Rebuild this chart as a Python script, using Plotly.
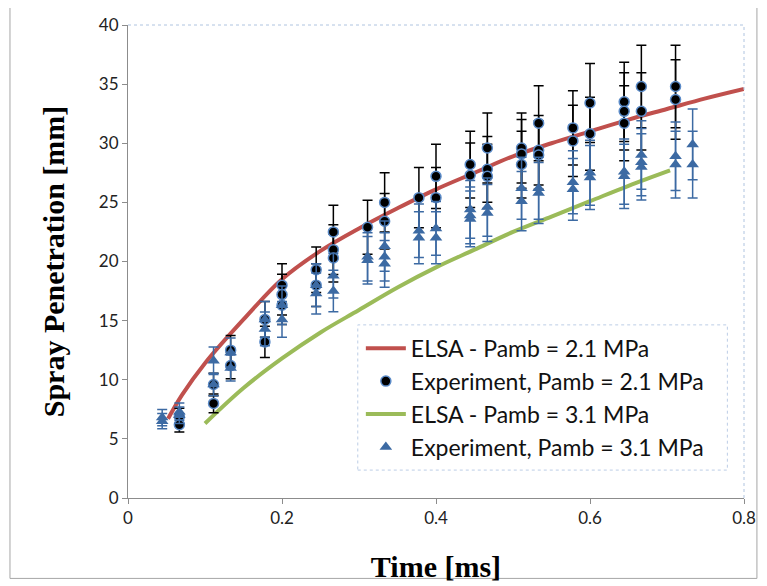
import plotly.graph_objects as go

# ---- data ----
elsa21_t = [0.052, 0.07, 0.1, 0.15, 0.2, 0.25, 0.3, 0.35, 0.4, 0.45, 0.5, 0.55, 0.6, 0.65, 0.7, 0.75, 0.8]
elsa21_v = [6.7, 8.7, 11.4, 15.1, 18.5, 20.9, 22.8, 24.5, 26.1, 27.5, 28.9, 30.0, 31.0, 32.0, 32.9, 33.8, 34.6]

elsa31_t = [0.1, 0.15, 0.2, 0.25, 0.3, 0.35, 0.4, 0.45, 0.5, 0.55, 0.6, 0.65, 0.704]
elsa31_v = [6.3, 9.3, 11.8, 14.0, 15.9, 17.8, 19.5, 21.0, 22.5, 23.8, 25.1, 26.4, 27.7]

exp21_t = [0.0667, 0.0667, 0.1111, 0.1111, 0.1333, 0.1333, 0.1778, 0.1778,
           0.2, 0.2, 0.2, 0.2444, 0.2444, 0.2667, 0.2667, 0.2667, 0.3111,
           0.3333, 0.3333, 0.3778, 0.4, 0.4, 0.4444, 0.4444,
           0.4667, 0.4667, 0.4667, 0.5111, 0.5111, 0.5111, 0.5333, 0.5333, 0.5333,
           0.5778, 0.5778, 0.6, 0.6, 0.6444, 0.6444, 0.6444, 0.6667, 0.6667,
           0.7111, 0.7111]
exp21_v = [6.9, 6.2, 9.6, 8.0, 12.5, 11.2, 15.1, 13.2,
           18.0, 17.2, 16.3, 19.3, 18.0, 22.5, 21.0, 20.3, 22.9,
           25.0, 23.4, 25.4, 27.2, 25.4, 28.2, 27.3,
           29.6, 27.8, 27.2, 29.6, 29.1, 28.2, 31.7, 29.4, 29.0,
           31.3, 30.2, 33.4, 30.8, 33.5, 32.7, 31.7, 34.8, 32.7,
           34.8, 33.7]

exp31_t = [0.0444, 0.0444, 0.0667, 0.0667, 0.1111, 0.1111, 0.1333, 0.1333,
           0.1778, 0.1778, 0.2, 0.2, 0.2444, 0.2444, 0.2667, 0.2667,
           0.3111, 0.3111, 0.3333, 0.3333, 0.3333, 0.3778, 0.3778, 0.4, 0.4,
           0.4444, 0.4444, 0.4444, 0.4667, 0.4667, 0.5111, 0.5111, 0.5333, 0.5333,
           0.5778, 0.5778, 0.6, 0.6, 0.6444, 0.6444, 0.6667, 0.6667, 0.6667,
           0.7111, 0.7111, 0.7333, 0.7333]
exp31_v = [6.8, 6.5, 7.3, 7.0, 11.6, 9.6, 12.3, 11.0,
           15.1, 14.3, 16.3, 15.1, 18.0, 17.3, 18.8, 17.5,
           20.4, 20.1, 21.3, 20.4, 19.8, 22.6, 22.0, 22.8, 22.0,
           24.4, 23.9, 23.6, 24.6, 24.1, 26.2, 25.1, 26.2, 25.8,
           26.7, 26.1, 27.5, 27.1, 27.6, 27.2, 29.0, 28.4, 28.0,
           28.9, 28.2, 29.9, 28.2]

error_percent = 10

x_ticks = [0, 0.2, 0.4, 0.6, 0.8]
x_ticklabels = ["0", "0.2", "0.4", "0.6", "0.8"]
y_ticks = [0, 5, 10, 15, 20, 25, 30, 35, 40]

names = ["ELSA - Pamb = 2.1 MPa", "Experiment, Pamb = 2.1 MPa",
         "ELSA - Pamb = 3.1 MPa", "Experiment, Pamb = 3.1 MPa"]

RED = "#C0504D"
GREEN = "#9BBB59"
BLUE = "#3C6AA3"
GLOW = "#5B8BC8"

fig = go.Figure()

fig.add_trace(go.Scatter(x=elsa21_t, y=elsa21_v, mode="lines", name=names[0],
                         line=dict(color=RED, width=4, shape="spline"), legendrank=1))
fig.add_trace(go.Scatter(x=elsa31_t, y=elsa31_v, mode="lines", name=names[2],
                         line=dict(color=GREEN, width=4, shape="spline"), legendrank=3))
fig.add_trace(go.Scatter(x=exp21_t, y=exp21_v, mode="markers", name=names[1],
                         marker=dict(symbol="circle", size=10, color="black",
                                     line=dict(color=GLOW, width=1.5)),
                         error_y=dict(type="percent", value=error_percent, color="black",
                                      thickness=1.5, width=5),
                         legendrank=2))
fig.add_trace(go.Scatter(x=exp31_t, y=exp31_v, mode="markers", name=names[3],
                         marker=dict(symbol="triangle-up", size=11, color=BLUE,
                                     line=dict(color=BLUE, width=0)),
                         error_y=dict(type="percent", value=error_percent, color=BLUE,
                                      thickness=1.5, width=5),
                         legendrank=4))

axis_font = dict(family="Lato, Liberation Sans, sans-serif", size=17, color="#222")
title_font = dict(family="Liberation Serif, Times New Roman, serif", size=30, color="black")

fig.update_xaxes(range=[0, 0.8], tickvals=x_ticks, ticktext=x_ticklabels,
                 automargin=False,
                 showgrid=False, zeroline=False, showline=True, linecolor="#8c8c8c",
                 linewidth=1, ticks="outside", ticklen=5, tickcolor="#8c8c8c",
                 tickfont=axis_font,
                 title=dict(text="<b>Time [ms]</b>", font=title_font, standoff=28))
fig.update_yaxes(range=[0, 40], tickvals=y_ticks,
                 automargin=False,
                 showgrid=False, zeroline=False, showline=True, linecolor="#8c8c8c",
                 linewidth=1, ticks="outside", ticklen=5, tickcolor="#8c8c8c",
                 tickfont=axis_font,
                 title=dict(text="<b>Spray Penetration [mm]</b>", font=title_font, standoff=25))

# the page adds an 8px body margin, so the figure is sized/offset to compensate
fig.update_layout(
    width=759, height=578,
    margin=dict(l=120, r=23, t=17, b=88),
    paper_bgcolor="white", plot_bgcolor="white",
    showlegend=True,
    legend=dict(x=0.378, y=0.362, xanchor="left", yanchor="top",
                bgcolor="rgba(255,255,255,1)", borderwidth=0,
                font=dict(family="Lato, Liberation Sans, sans-serif", size=23, color="#111"),
                tracegroupgap=0, itemwidth=40),
    shapes=[
        dict(type="line", xref="paper", yref="paper", x0=0, x1=1, y0=1, y1=1,
             line=dict(color="#AFC4E0", width=1, dash="dot")),
        dict(type="line", xref="paper", yref="paper", x0=1, x1=1, y0=0, y1=1,
             line=dict(color="#AFC4E0", width=1, dash="dot")),
        dict(type="rect", xref="paper", yref="paper", x0=0.373, x1=0.973, y0=0.059, y1=0.366,
             line=dict(color="#BCCDE6", width=1, dash="dot"), layer="above"),
        dict(type="rect", xref="paper", yref="paper", x0=-0.1916, x1=1.021, y0=-0.17, y1=1.038,
             line=dict(color="#A6A6A6", width=1)),
    ],
)

fig.write_html("out.html")
